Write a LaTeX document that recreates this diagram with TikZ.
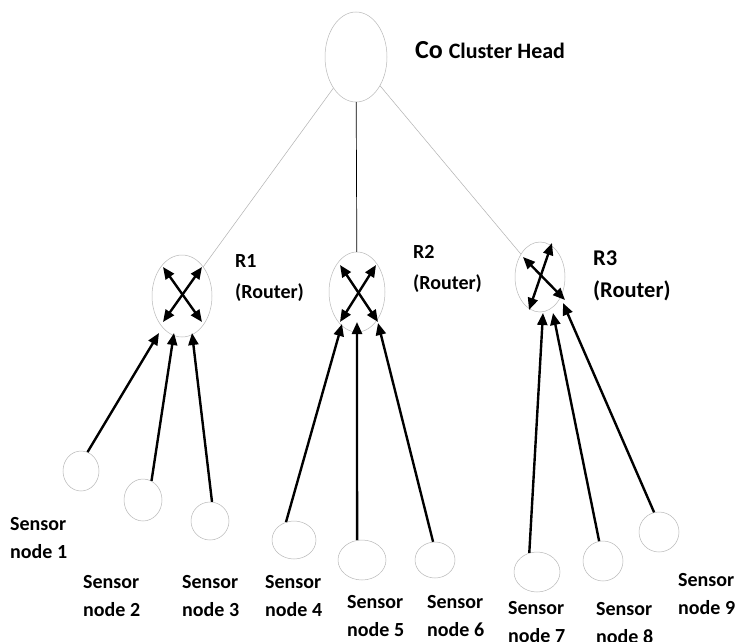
\documentclass[tikz,border=0pt]{standalone}
\usepackage{fontspec}
\setmainfont{Carlito}
\usetikzlibrary{shapes.geometric,arrows.meta}

\tikzset{
  oval/.style={ellipse, draw=gray!55, line width=0.5pt, inner sep=0pt},
  link/.style={draw=gray!60, line width=0.5pt},
  uplink/.style={line width=2.4pt, -{Triangle[length=12pt,width=10pt]}},
  cross/.style={line width=2.4pt, {Triangle[length=12pt,width=10pt]}-{Triangle[length=12pt,width=10pt]}},
  % anchor at the baseline of the second line
  lbl/.style={font=\bfseries\fontsize{20}{28}\selectfont, align=left, inner sep=0pt, anchor=base west},
  rlbl/.style={font=\bfseries\fontsize{20}{31}\selectfont, align=left, inner sep=0pt, anchor=base west}
}

\begin{document}
\begin{tikzpicture}[x=1pt,y=-1pt]
\useasboundingbox[fill=white] (0,0) rectangle (736,642);

% cluster head and routers
\node[oval, minimum width=62pt, minimum height=90pt] (ch) at (356,57) {};
\node[oval, minimum width=60pt, minimum height=82pt] (r1) at (182,296) {};
\node[oval, minimum width=56pt, minimum height=80pt] (r2) at (357,292) {};
\node[oval, minimum width=50pt, minimum height=70pt] (r3) at (540,277) {};

% sensor nodes
\node[oval, minimum width=36pt, minimum height=40pt] (s1) at (81,471) {};
\node[oval, minimum width=38pt, minimum height=42pt] (s2) at (143,500) {};
\node[oval, minimum width=38pt, minimum height=38pt] (s3) at (210,521) {};
\node[oval, minimum width=44pt, minimum height=38pt] (s4) at (294,540) {};
\node[oval, minimum width=48pt, minimum height=40pt] (s5) at (362,560) {};
\node[oval, minimum width=40pt, minimum height=36pt] (s6) at (435,560) {};
\node[oval, minimum width=46pt, minimum height=40pt] (s7) at (537,572) {};
\node[oval, minimum width=40pt, minimum height=40pt] (s8) at (603,561) {};
\node[oval, minimum width=40pt, minimum height=40pt] (s9) at (659,532) {};

% cluster head to routers
\draw[link] (ch) -- (r1);
\draw[black, line width=0.7pt] (ch) -- (r2);
\draw[link] (ch) -- (r3);

% arrow tips at the routers
\coordinate (t1) at (159,333);
\coordinate (t2) at (174,333);
\coordinate (t3) at (192,333);
\coordinate (t4) at (342,324);
\coordinate (t5) at (357,322);
\coordinate (t6) at (378,323);
\coordinate (t7) at (543,313);
\coordinate (t8) at (553,313);
\coordinate (t9) at (563,303);

% sensors to routers
\draw[uplink] (s1.71)  -- (t1);
\draw[uplink] (s2.66)  -- (t2);
\draw[uplink] (s3.84)  -- (t3);
\draw[uplink] (s4.114) -- (t4);
\draw[uplink] (s5.104) -- (t5);
\draw[uplink] (s6.96)  -- (t6);
\draw[uplink] (s7.112) -- (t7);
\draw[uplink] (s8.101) -- (t8);
\draw[uplink] (s9.104) -- (t9);

% crossing arrows inside the routers
\coordinate (r1a) at (163,267); \coordinate (r1b) at (202,322);
\coordinate (r1c) at (202,267); \coordinate (r1d) at (163,322);
\draw[cross] (r1a) -- (r1b);
\draw[cross] (r1c) -- (r1d);

\coordinate (r2a) at (340,265); \coordinate (r2b) at (378,322);
\coordinate (r2c) at (376,265); \coordinate (r2d) at (340,322);
\draw[cross] (r2a) -- (r2b);
\draw[cross] (r2c) -- (r2d);

\coordinate (r3a) at (552,243); \coordinate (r3b) at (529,310);
\coordinate (r3c) at (523,257); \coordinate (r3d) at (565,300);
\draw[cross] (r3a) -- (r3b);
\draw[cross] (r3c) -- (r3d);

% labels
\node[inner sep=0pt, anchor=base west, font=\bfseries] (chl) at (415,59)
  {\fontsize{26}{30}\selectfont Co \fontsize{22}{24}\selectfont Cluster Head};
\node[rlbl] (r1l) at (235,298) {R1\\(Router)};
\node[rlbl] (r2l) at (413,289) {R2\\(Router)};
\node[rlbl, font=\bfseries\fontsize{22.5}{32}\selectfont] (r3l) at (593,297) {R3\\(Router)};

\node[lbl] (l1) at (10,558)  {Sensor\\node 1};
\node[lbl] (l2) at (83,616)  {Sensor\\node 2};
\node[lbl] (l3) at (182,616) {Sensor\\node 3};
\node[lbl] (l4) at (265,616) {Sensor\\node 4};
\node[lbl] (l5) at (347,636) {Sensor\\node 5};
\node[lbl] (l6) at (427,636) {Sensor\\node 6};
\node[lbl] (l7) at (508,642) {Sensor\\node 7};
\node[lbl] (l8) at (596,643) {Sensor\\node 8};
\node[lbl] (l9) at (678,614) {Sensor\\node 9};
\end{tikzpicture}
\end{document}
